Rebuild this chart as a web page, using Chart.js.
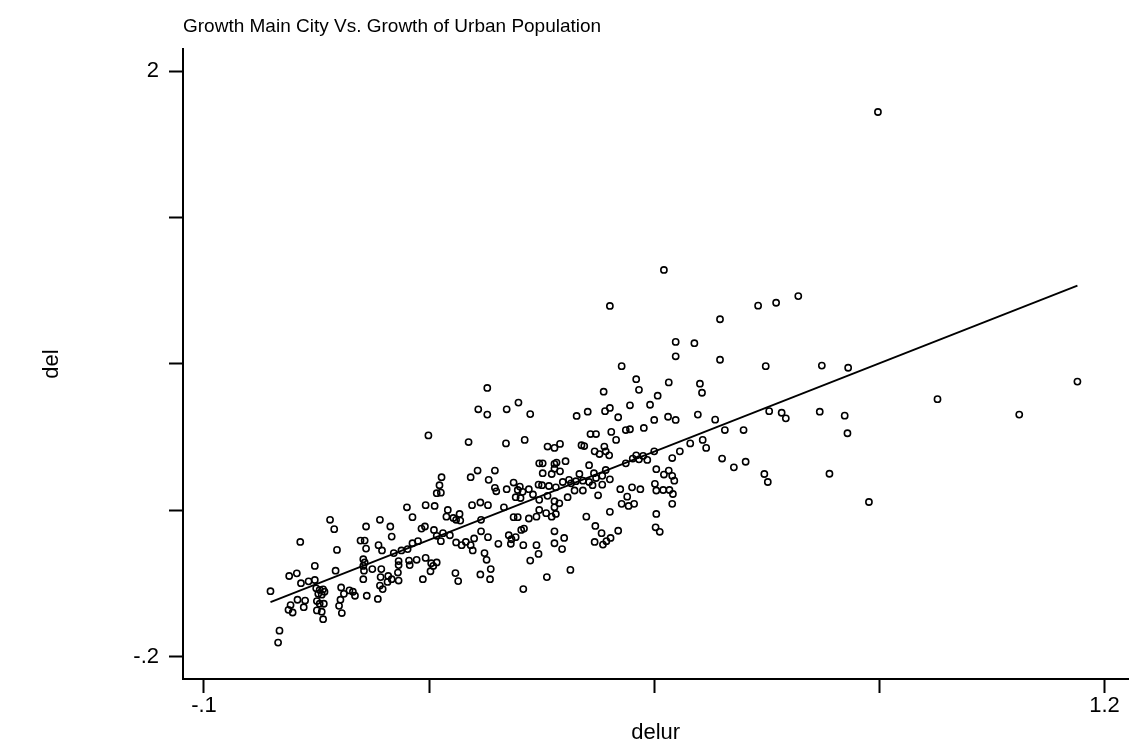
<!DOCTYPE html>
<html>
<head>
<meta charset="utf-8">
<script src="https://cdn.jsdelivr.net/npm/chart.js@4.4.1/dist/chart.umd.min.js"></script>
<style>
  html, body { margin: 0; padding: 0; background: #fff; }
  #wrap { width: 1134px; height: 748px; }
</style>
</head>
<body>
<div id="wrap"><canvas id="c" width="1134" height="748"></canvas></div>
<script>
// ---- data ----
const delurValues = [
  0.873, 0.758, 0.726, 0.792, 0.830, 1.161, 0.959, 1.077, 0.734, 0.740, 0.789, 0.825, 0.829, 0.803, 0.860,
  0.564, 0.486, 0.700, 0.645, 0.581, 0.608, 0.581, 0.645, 0.503, 0.711, 0.524, 0.571, 0.616,
  0.309, 0.296, 0.309, 0.337, 0.354, 0.371, 0.438, 0.454, 0.477, 0.479,
  0.619, 0.528, 0.555, 0.544, 0.515, 0.486, 0.498, 0.613, 0.570, 0.581, 0.550, 0.638, 0.716, 0.535,
  0.509, 0.515, 0.488, 0.652, 0.679, 0.620, 0.625, 0.602, 0.587, 0.495, 0.478, 0.480, 0.485, 0.471,
  0.550, 0.524, 0.528, 0.534, 0.540, 0.519, 0.509, 0.576, 0.648, 0.665, 0.682, 0.709, 0.714, 0.553,
  0.571, 0.564, 0.576, 0.579, 0.480, 0.475, 0.486, 0.475, 0.501, 0.518, 0.530, 0.551, 0.553, 0.563,
  0.572, 0.577, 0.511, 0.503, 0.513, 0.521, 0.576, 0.486, 0.553, 0.552, 0.558, 0.498, 0.474, 0.487,
  0.481, 0.476,
  0.396, 0.406, 0.414, 0.445, 0.449, 0.458, 0.466, 0.464, 0.384, 0.389, 0.406, 0.409, 0.422, 0.406,
  0.389, 0.402, 0.414, 0.442, 0.456, 0.463, 0.418, 0.427, 0.430, 0.437, 0.447, 0.456, 0.466, 0.388,
  0.398, 0.408, 0.435, 0.447, 0.461, 0.469, 0.425, 0.396, 0.384, 0.406, 0.413, 0.406, 0.384, 0.394,
  0.402, 0.408, 0.452, 0.465, 0.406, 0.420, 0.464, 0.406,
  0.224, 0.282, 0.336, 0.363, 0.240, 0.243, 0.236, 0.242, 0.233, 0.295, 0.285, 0.320, 0.311, 0.320,
  0.322, 0.337, 0.347, 0.353, 0.356, 0.360, 0.369, 0.375, 0.350, 0.357, 0.383, 0.333, 0.299, 0.310,
  0.287, 0.269, 0.260, 0.250, 0.252, 0.264, 0.270, 0.300, 0.347, 0.353, 0.369, 0.380, 0.232, 0.236,
  0.245, 0.242, 0.255, 0.264, 0.272, 0.278, 0.285, 0.290, 0.288, 0.300, 0.310, 0.325, 0.340, 0.344,
  0.350, 0.343, 0.358, 0.362, 0.361, 0.380, 0.383, 0.305, 0.308, 0.314, 0.299, 0.313, 0.263, 0.267,
  0.231, 0.236, 0.371, 0.395, 0.361, 0.417, 0.429,
  -0.004, 0.009, 0.007, 0.023, 0.034, 0.040, 0.039, 0.025, 0.022, 0.028, 0.035, 0.046, 0.044, 0.051,
  0.060, 0.060, 0.062, 0.067, 0.072, 0.065, 0.070, 0.074, 0.063, 0.067, 0.073, 0.063, 0.070, 0.072,
  0.090, 0.092, 0.088, 0.082, 0.098, 0.097, 0.095, 0.099, 0.110, 0.115, 0.118, 0.135, 0.151, 0.134,
  0.154, 0.169, 0.171, 0.126, 0.132, 0.134, 0.152, 0.157, 0.130, 0.132, 0.130, 0.143, 0.131, 0.130,
  0.156, 0.155, 0.154, 0.158, 0.166, 0.171, 0.165, 0.181, 0.180, 0.181, 0.181, 0.174, 0.185, 0.194,
  0.201, 0.209, 0.196, 0.207, 0.197, 0.220, 0.228, 0.216, 0.227, 0.214, 0.219, 0.201, 0.193, 0.220,
  0.102
];
const delValues = [
  1.846, 1.155, 1.130, 0.894, 0.886, 0.834, 0.768, 0.710, 0.717, 0.696, 0.721, 0.706, 0.640, 0.488, 0.382,
  1.253, 1.118, 1.119, 1.068, 0.983, 0.978, 0.929, 0.916, 0.892, 0.892, 0.843, 0.831, 0.826,
  0.810, 0.730, 0.710, 0.730, 0.755, 0.712, 0.705, 0.721, 0.796, 0.723,
  0.792, 0.803, 0.781, 0.747, 0.745, 0.735, 0.700, 0.710, 0.702, 0.690, 0.690, 0.691, 0.723, 0.660,
  0.652, 0.655, 0.645, 0.652, 0.652, 0.615, 0.585, 0.602, 0.572, 0.615, 0.590, 0.572, 0.557, 0.562,
  0.572, 0.557, 0.542, 0.555, 0.540, 0.545, 0.527, 0.547, 0.545, 0.512, 0.533, 0.487, 0.457, 0.505,
  0.500, 0.485, 0.480, 0.462, 0.502, 0.480, 0.467, 0.447, 0.430, 0.437, 0.430, 0.450, 0.425, 0.427,
  0.427, 0.412, 0.402, 0.375, 0.367, 0.375, 0.375, 0.345, 0.337, 0.287, 0.270, 0.274, 0.265, 0.247,
  0.235, 0.222,
  0.590, 0.585, 0.600, 0.595, 0.592, 0.637, 0.637, 0.572, 0.527, 0.527, 0.525, 0.530, 0.535, 0.507,
  0.490, 0.487, 0.497, 0.487, 0.520, 0.490, 0.457, 0.465, 0.452, 0.460, 0.462, 0.457, 0.472, 0.445,
  0.442, 0.437, 0.425, 0.425, 0.445, 0.407, 0.400, 0.405, 0.390, 0.385, 0.377, 0.362, 0.352, 0.340,
  0.327, 0.337, 0.327, 0.292, 0.272, 0.247, 0.232, 0.227,
  0.632, 0.607, 0.602, 0.615, 0.445, 0.475, 0.415, 0.417, 0.367, 0.500, 0.475, 0.500, 0.465, 0.435,
  0.422, 0.430, 0.455, 0.427, 0.440, 0.420, 0.430, 0.410, 0.400, 0.397, 0.447, 0.362, 0.380, 0.370,
  0.370, 0.337, 0.322, 0.327, 0.352, 0.315, 0.312, 0.315, 0.325, 0.325, 0.320, 0.327, 0.277, 0.255,
  0.265, 0.235, 0.257, 0.230, 0.220, 0.232, 0.220, 0.245, 0.200, 0.272, 0.250, 0.225, 0.257, 0.242,
  0.250, 0.225, 0.277, 0.282, 0.220, 0.220, 0.187, 0.190, 0.165, 0.130, 0.110, 0.092, 0.115, 0.085,
  0.142, 0.155, 0.162, 0.100, 0.055, 0.205, 0.127,
  0.047, -0.101, -0.146, 0.104, 0.114, 0.077, 0.232, -0.005, -0.023, -0.033, 0.015, 0.012, -0.013, 0.084,
  0.089, 0.142, 0.058, 0.052, 0.054, 0.037, 0.034, 0.045, 0.010, 0.000, 0.000, -0.025, -0.030, -0.058,
  0.124, 0.202, 0.280, 0.315, 0.061, 0.015, -0.008, -0.035, 0.050, 0.045, 0.030, 0.030, 0.018, 0.290,
  0.315, 0.290, 0.252, 0.237, 0.237, 0.207, 0.220, 0.200, 0.167, 0.155, 0.142, 0.130, 0.124, 0.092,
  0.130, 0.100, 0.068, 0.055, 0.104, 0.092, 0.082, 0.087, 0.117, 0.145, 0.160, 0.190, 0.200, 0.205,
  0.227, 0.235, 0.162, 0.165, 0.145, 0.172, 0.152, 0.092, 0.122, 0.282, 0.290, 0.325, 0.362, 0.370,
  0.037
];
// fitted line (intercept, slope)
const fitIntercept = 0.010;
const fitSlope = 1.020;

const xTickValues = [-0.1, 0.225, 0.55, 0.875, 1.2];
const xTickLabels = ['-.1', '', '', '', '1.2'];
const yTickValues = [-0.2, 0.35, 0.9, 1.45, 2];
const yTickLabels = ['-.2', '', '', '', '2'];

const titleText = 'Growth Main City Vs. Growth of Urban Population';
const xTitle = 'delur';
const yTitle = 'del';

// ---- build ----
const points = delurValues.map((x, i) => ({ x: x, y: delValues[i] }));
const xMin = Math.min(...delurValues), xMax = Math.max(...delurValues);
const fitLine = [
  { x: xMin, y: fitIntercept + fitSlope * xMin },
  { x: xMax, y: fitIntercept + fitSlope * xMax }
];

const FONT = 'Liberation Sans, Arial, Helvetica, sans-serif';
const tickFont = { family: FONT, size: 22 };

new Chart(document.getElementById('c'), {
  type: 'scatter',
  data: {
    datasets: [
      {
        data: points,
        showLine: false,
        pointStyle: 'circle',
        pointRadius: 3.1,
        pointBorderWidth: 1.6,
        pointBorderColor: '#000',
        pointBackgroundColor: 'rgba(0,0,0,0)'
      },
      {
        type: 'line',
        data: fitLine,
        borderColor: '#000',
        borderWidth: 1.8,
        pointRadius: 0,
        fill: false,
        tension: 0
      }
    ]
  },
  options: {
    responsive: false,
    animation: false,
    events: [],
    layout: { padding: { left: 0, right: 4, top: 0, bottom: 0 } },
    plugins: {
      legend: { display: false },
      tooltip: { enabled: false },
      title: {
        display: true,
        text: titleText,
        align: 'start',
        fullSize: false,
        color: '#000',
        font: { family: FONT, size: 19, weight: 'normal' },
        padding: { top: 15.6, bottom: 10.6 }
      }
    },
    scales: {
      x: {
        type: 'linear',
        min: -0.1303,
        max: 1.2346,
        afterBuildTicks: (s) => { s.ticks = xTickValues.map(v => ({ value: v })); },
        afterFit: (s) => { s.height = 69; },
        ticks: {
          autoSkip: false,
          maxRotation: 0,
          color: '#000',
          font: tickFont,
          padding: 0,
          callback: (v, i) => xTickLabels[i]
        },
        grid: { drawOnChartArea: false, drawTicks: true, tickLength: 14, tickColor: '#000', tickWidth: 2 },
        border: { display: true, color: '#000', width: 2 },
        title: { display: true, text: xTitle, color: '#000', font: tickFont, padding: { top: 0, bottom: 2 } }
      },
      y: {
        type: 'linear',
        min: -0.2826,
        max: 2.0826,
        afterBuildTicks: (s) => { s.ticks = yTickValues.map(v => ({ value: v })); },
        afterFit: (s) => { s.width = 183; },
        ticks: {
          autoSkip: false,
          color: '#000',
          font: tickFont,
          padding: 10,
          callback: (v, i) => yTickLabels[i]
        },
        grid: { drawOnChartArea: false, drawTicks: true, tickLength: 14, tickColor: '#000', tickWidth: 2 },
        border: { display: true, color: '#000', width: 2 },
        title: { display: true, text: yTitle, color: '#000', font: tickFont, padding: { top: 39, bottom: 0 } }
      }
    }
  }
});
</script>
</body>
</html>
